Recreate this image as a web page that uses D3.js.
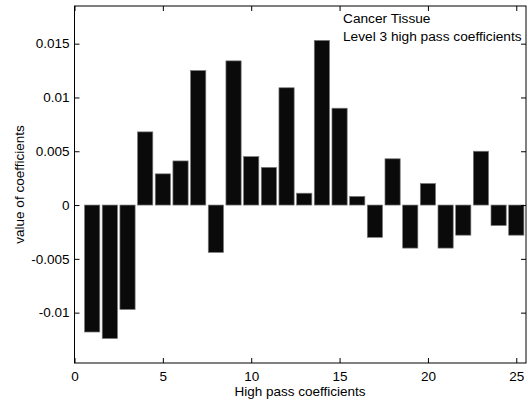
<!DOCTYPE html>
<html><head><meta charset="utf-8">
<script src="https://d3js.org/d3.v7.min.js"></script>
<style>body{margin:0;background:#fff}svg{display:block}text{font-family:"Liberation Sans",Arial,sans-serif;fill:#000}</style>
</head><body><svg id="c" width="528" height="407"></svg>
<script>
const indices = d3.range(1, 26);
const values = [-0.0118,-0.0124,-0.0097,0.0068,0.0029,0.0041,0.0125,-0.0044,0.0134,0.0045,0.0035,0.0109,0.0011,0.0153,0.0090,0.0008,-0.0030,0.0043,-0.0040,0.0020,-0.0040,-0.0028,0.0050,-0.0019,-0.0028];
const xTicks = [0,5,10,15,20,25];
const yTicks = [-0.01,-0.005,0,0.005,0.01,0.015];
const yTickLabels = ["-0.01","-0.005","0","0.005","0.01","0.015"];
const legendLines = ["Cancer Tissue","Level 3 high pass coefficients"];

const svg = d3.select("#c");
const L=74.5,R=526,T=6,B=363;
const fs=13.5;
const x = d3.scaleLinear().domain([0,25.55]).range([L,R]);
const y = d3.scaleLinear().domain([-0.01468,0.0185]).range([B,T]);
const bw = 0.86*(x(1)-x(0));

svg.append("g").selectAll("rect").data(indices).join("rect")
  .attr("x",d=>x(d)-bw/2).attr("width",bw)
  .attr("y",(d,i)=>y(Math.max(0,values[i])))
  .attr("height",(d,i)=>Math.abs(y(values[i])-y(0)))
  .attr("fill","#0a0a0a").attr("stroke","#777").attr("stroke-width",0.7);

const tl=5;
const g=svg.append("g");
g.append("g").attr("transform",`translate(0,${B})`).call(d3.axisBottom(x).tickValues(xTicks).tickSizeInner(-tl).tickSizeOuter(0).tickPadding(8));
g.append("g").attr("transform",`translate(0,${T})`).call(d3.axisTop(x).tickValues(xTicks).tickSizeInner(-tl).tickSizeOuter(0).tickFormat(""));
g.append("g").attr("transform",`translate(${L},0)`).call(d3.axisLeft(y).tickValues(yTicks).tickSizeInner(-tl).tickSizeOuter(0).tickPadding(5).tickFormat((d,i)=>yTickLabels[i]));
g.append("g").attr("transform",`translate(${R},0)`).call(d3.axisRight(y).tickValues(yTicks).tickSizeInner(-tl).tickSizeOuter(0).tickFormat(""));
g.selectAll(".domain").remove();
g.selectAll("text").attr("font-family",'"Liberation Sans",Arial,sans-serif').attr("fill","#000").attr("font-size",fs);
g.selectAll(".tick line").attr("stroke","#000");
svg.append("rect").attr("x",L).attr("y",T).attr("width",R-L).attr("height",B-T).attr("fill","none").attr("stroke","#000").attr("stroke-width",1);

svg.append("g").selectAll("text").data(legendLines).join("text")
  .attr("x",343).attr("y",(d,i)=>23+i*17.5).attr("font-size",13.7).text(d=>d);

svg.append("text").attr("x",300).attr("y",396).attr("text-anchor","middle").attr("font-size",fs).text("High pass coefficients");
svg.append("text").attr("transform",`translate(24,${(T+B)/2}) rotate(-90)`).attr("text-anchor","middle").attr("font-size",fs).text("value of coefficients");
</script></body></html>
